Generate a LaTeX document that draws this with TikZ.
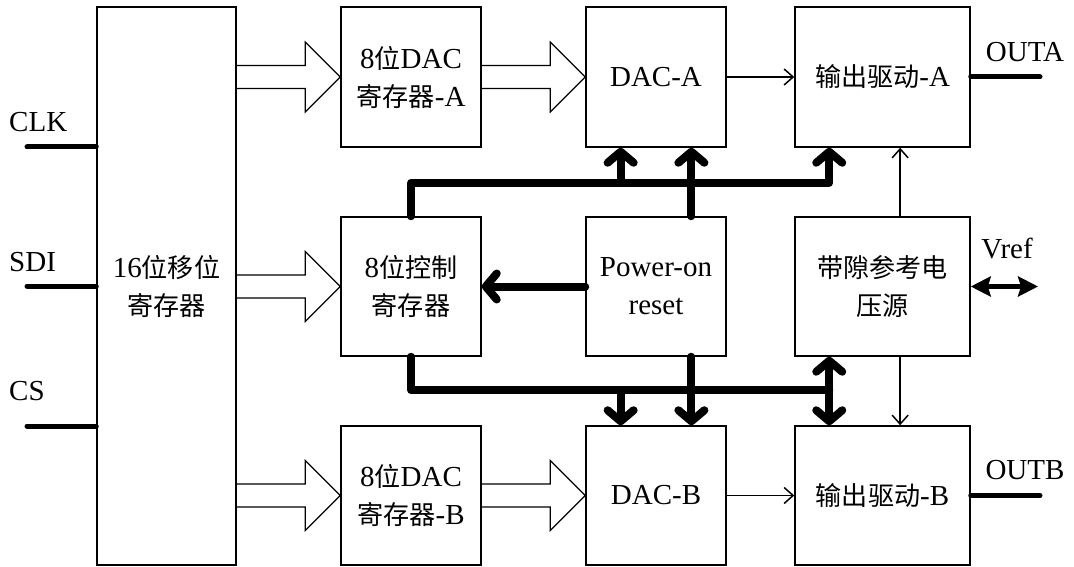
\documentclass[tikz,border=0pt]{standalone}
\usepackage{fontspec}
\setmainfont{Liberation Serif}
\newfontfamily\cjk{Noto Sans CJK SC}[Scale=0.9]
\usetikzlibrary{arrows.meta,calc,positioning}
\tikzset{
  block/.style={draw,line width=1.5pt,minimum width=140pt,minimum height=139pt,
    align=center,inner sep=0pt,font=\fontsize{29pt}{38pt}\selectfont},
  wideblock/.style={block,minimum width=175pt},
  hollow/.style={draw,line width=1.2pt,line join=miter},
  thinarrow/.style={line width=1.5pt,-{Straight Barb[length=9pt,width=16pt]}},
  bustip/.tip={Straight Barb[length=11pt,width=26pt,round]},
  bus/.style={line width=8pt,line join=round,line cap=round},
  busarrow/.style={bus,-bustip},
  pin/.style={line width=5pt,line cap=round},
  pinlabel/.style={font=\fontsize{29pt}{36pt}\selectfont,inner sep=2pt},
}
% wide (parallel) data arrow between two blocks
\newcommand\widearrow[2]{%
  \draw[hollow] ($(#1.east |- #2.west)+(0,-11.5)$) -- ($(#2.west)+(-35,-11.5)$)
    -- ($(#2.west)+(-35,-35)$) -- (#2.west) -- ($(#2.west)+(-35,35)$)
    -- ($(#2.west)+(-35,11.5)$) -- ($(#1.east |- #2.west)+(0,11.5)$);}

\begin{document}
\begin{tikzpicture}[x=1pt,y=-1pt]
  \fill[white] (0,0) rectangle (1074,567);
  \useasboundingbox (0,0) rectangle (1074,567);
  % Blocks
  \node[block,minimum width=139pt,minimum height=558pt] (sr) at (166.5,286)
    {16{\cjk 位移位}\\{\cjk 寄存器}};
  \node[block,minimum height=140pt] (regA) at (411,77) {8{\cjk 位}DAC\\{\cjk 寄存器}-A};
  \node[block] (ctrl) at (411,286.5) {8{\cjk 位控制}\\{\cjk 寄存器}};
  \node[block] (regB) at (411,495.5) {8{\cjk 位}DAC\\{\cjk 寄存器}-B};
  \node[block,minimum height=140pt] (dacA) at (656,77) {DAC-A};
  \node[block] (por) at (656,286.5) {Power-on\\reset};
  \node[block] (dacB) at (656,495.5) {DAC-B};
  \node[wideblock,minimum height=140pt] (drvA) at (882.5,77) {{\cjk 输出驱动}-A};
  \node[wideblock] (bg) at (882.5,286.5) {{\cjk 带隙参考电}\\{\cjk 压源}};
  \node[wideblock] (drvB) at (882.5,495.5) {{\cjk 输出驱动}-B};
  % Data paths
  \widearrow{sr}{regA}
  \widearrow{sr}{ctrl}
  \widearrow{sr}{regB}
  \widearrow{regA}{dacA}
  \widearrow{regB}{dacB}
  % Control bus, upper
  \coordinate (upA) at ($(dacA.south west)!0.25!(dacA.south east)$);
  \coordinate (upP) at ($(dacA.south west)!0.75!(dacA.south east)$);
  \coordinate (upD) at ($(drvA.south west)+(35,0)$);
  \draw[busarrow] (ctrl.north) |- ([yshift=-35pt]upD) -- (upD);
  \draw[busarrow] ([yshift=-35pt]upA) -- (upA);
  \draw[busarrow] (upP |- por.north) -- (upP);
  % Control bus, lower
  \coordinate (dnA) at ($(dacB.north west)!0.25!(dacB.north east)$);
  \coordinate (dnP) at ($(dacB.north west)!0.75!(dacB.north east)$);
  \coordinate (dnD) at ($(drvB.north west)+(35,0)$);
  \draw[bus] (ctrl.south) |- ([yshift=35pt]dnD);
  \draw[busarrow] ([yshift=35pt]dnA) -- (dnA);
  \draw[busarrow] (dnP |- por.south) -- (dnP);
  \draw[bus,bustip-bustip] (dnD |- bg.south) -- (dnD);
  % Reset to control register
  \draw[busarrow] (por.west) -- (ctrl.east);
  % Analog paths
  \draw[thinarrow] (dacA.east) -- (drvA.west);
  \draw[thinarrow] (dacB.east) -- (drvB.west);
  \coordinate (bgT) at ($(bg.north west)!0.6!(bg.north east)$);
  \coordinate (bgB) at ($(bg.south west)!0.6!(bg.south east)$);
  \draw[thinarrow] (bgT) -- (bgT |- drvA.south);
  \draw[thinarrow] (bgB) -- (bgB |- drvB.north);
  % Input pins
  \coordinate (clkIn) at (27,147);
  \coordinate (sdiIn) at (27,286);
  \coordinate (csIn) at (27,426);
  \draw[pin] (clkIn) -- (clkIn -| sr.west);
  \draw[pin] (sdiIn) -- (sdiIn -| sr.west);
  \draw[pin] (csIn) -- (csIn -| sr.west);
  \node[pinlabel,anchor=west] (clkL) at (7,122) {CLK};
  \node[pinlabel,anchor=west] (sdiL) at (7,262) {SDI};
  \node[pinlabel,anchor=west] (csL) at (7,391) {CS};
  % Output pins
  \coordinate (outAEnd) at (1040,77);
  \coordinate (outBEnd) at (1040,495.5);
  \coordinate (vrefEnd) at (1038,286.5);
  \draw[pin] (drvA.east) -- (outAEnd);
  \draw[pin] (drvB.east) -- (outBEnd);
  \draw[line width=5pt,{Stealth[length=20pt,width=20pt,inset=3pt]}-{Stealth[length=20pt,width=20pt,inset=3pt]}]
    (bg.east) -- (vrefEnd);
  \node[pinlabel] (outAL) at (1025,52) {OUTA};
  \node[pinlabel] (outBL) at (1025,470) {OUTB};
  \node[pinlabel] (vrefL) at (1007,249) {Vref};
\end{tikzpicture}
\end{document}
